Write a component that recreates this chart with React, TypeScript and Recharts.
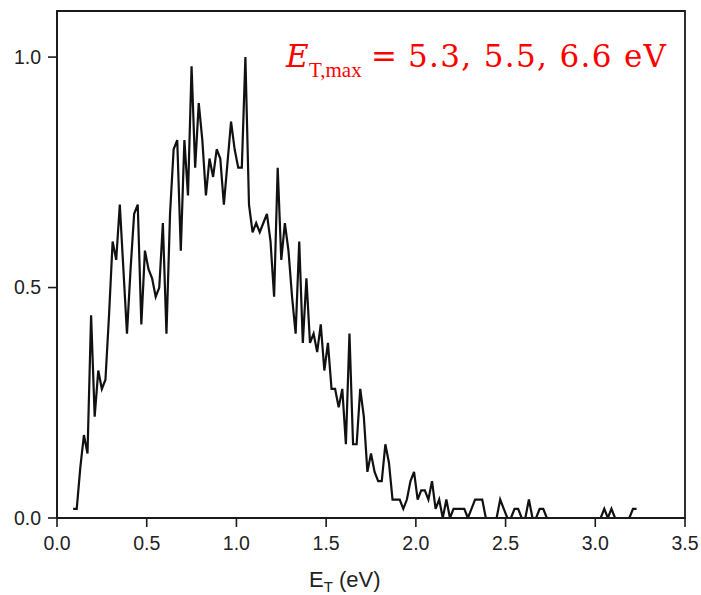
import { LineChart, Line, XAxis, YAxis, ReferenceArea } from "recharts";

// E_T bin centres (eV)
const energies = [
  0.09, 0.11, 0.13, 0.15, 0.17, 0.19, 0.21, 0.23, 0.25, 0.27, 0.29,
  0.31, 0.33, 0.35, 0.37, 0.39, 0.41, 0.43, 0.45, 0.47, 0.49,
  0.51, 0.53, 0.55, 0.57, 0.59, 0.61, 0.63, 0.65, 0.67, 0.69,
  0.71, 0.73, 0.75, 0.77, 0.79, 0.81, 0.83, 0.85, 0.87, 0.89,
  0.91, 0.93, 0.95, 0.97, 0.99, 1.01, 1.03, 1.05, 1.07, 1.09,
  1.11, 1.13, 1.15, 1.17, 1.19, 1.21, 1.23, 1.25, 1.27, 1.29,
  1.31, 1.33, 1.35, 1.37, 1.39, 1.41, 1.43, 1.45, 1.47, 1.49,
  1.51, 1.53, 1.55, 1.57, 1.59, 1.61, 1.63, 1.65, 1.67, 1.69,
  1.71, 1.73, 1.75, 1.77, 1.79, 1.81, 1.83, 1.85, 1.87, 1.89,
  1.91, 1.93, 1.95, 1.97, 1.99, 2.01, 2.03, 2.05, 2.07, 2.09,
  2.11, 2.13, 2.15, 2.17, 2.19, 2.21, 2.23, 2.25, 2.27, 2.29,
  2.31, 2.33, 2.35, 2.37, 2.39, 2.41, 2.43, 2.45, 2.47, 2.49,
  2.51, 2.53, 2.55, 2.57, 2.59, 2.61, 2.63, 2.65, 2.67, 2.69,
  2.71, 2.73, 2.75, 2.77, 2.79, 2.81, 2.83, 2.85, 2.87, 2.89,
  2.91, 2.93, 2.95, 2.97, 2.99, 3.01, 3.03, 3.05, 3.07, 3.09,
  3.11, 3.13, 3.15, 3.17, 3.19, 3.21, 3.23,
];

// normalised counts
const counts = [
  0.02, 0.02, 0.11, 0.18, 0.14, 0.44, 0.22, 0.32, 0.28, 0.30, 0.44,
  0.60, 0.56, 0.68, 0.54, 0.40, 0.54, 0.66, 0.68, 0.42, 0.58,
  0.54, 0.52, 0.48, 0.50, 0.64, 0.40, 0.66, 0.80, 0.82, 0.58,
  0.82, 0.70, 0.98, 0.76, 0.90, 0.82, 0.70, 0.78, 0.74, 0.80,
  0.78, 0.68, 0.77, 0.86, 0.80, 0.76, 0.76, 1.00, 0.68, 0.62,
  0.64, 0.62, 0.64, 0.66, 0.60, 0.48, 0.76, 0.56, 0.64, 0.58,
  0.48, 0.40, 0.60, 0.38, 0.52, 0.38, 0.40, 0.36, 0.42, 0.32,
  0.38, 0.28, 0.28, 0.24, 0.28, 0.16, 0.40, 0.16, 0.16, 0.28,
  0.22, 0.10, 0.14, 0.10, 0.08, 0.08, 0.16, 0.12, 0.04, 0.04,
  0.04, 0.02, 0.04, 0.08, 0.10, 0.04, 0.06, 0.06, 0.04, 0.08,
  0.02, 0.04, 0, 0.04, 0, 0.02, 0.02, 0.02, 0.02, 0,
  0.02, 0.04, 0.04, 0.04, 0, 0, 0, 0, 0.04, 0.02,
  0, 0, 0.02, 0.02, 0, 0, 0.04, 0, 0, 0.02,
  0.02, 0, 0, 0, 0, 0, 0, 0, 0, 0,
  0, 0, 0, 0, 0, 0, 0, 0.02, 0, 0.02,
  0, 0, 0, 0, 0, 0.02, 0.02,
];

const xMajorTicks = [0, 0.5, 1, 1.5, 2, 2.5, 3, 3.5];
const xMinorTicks = [0.25, 0.75, 1.25, 1.75, 2.25, 2.75, 3.25];
const yMajorTicks = [0, 0.5, 1];
const yMinorTicks = [0.25, 0.75];

const rows = energies.map((e, i) => ({ e, n: counts[i] }));

const ink = "#1a1a1a";
const sans = "'Liberation Sans', Arial, sans-serif";
const tickFont = { fill: "#222", fontSize: 19.5, fontFamily: sans };
const fmt = (v: number) => Number(v).toFixed(1);

export default function App() {
  return (
    <div style={{ position: "absolute", left: 0, top: 0, width: 701, height: 595, background: "#fff" }}>
      <LineChart width={701} height={595} data={rows} margin={{ top: 11, right: 16, bottom: 75, left: 55 }}>
        <XAxis
          dataKey="e"
          type="number"
          domain={[0, 3.5]}
          ticks={xMajorTicks}
          tickFormatter={fmt}
          height={1}
          tickSize={9}
          tickMargin={9}
          tick={tickFont}
          axisLine={{ stroke: ink, strokeWidth: 1.8 }}
          tickLine={{ stroke: ink, strokeWidth: 1.6 }}
          allowDataOverflow
        />
        <XAxis
          xAxisId="minor"
          dataKey="e"
          type="number"
          domain={[0, 3.5]}
          ticks={xMinorTicks}
          height={1}
          tickSize={5}
          tick={false}
          axisLine={false}
          tickLine={{ stroke: ink, strokeWidth: 1.6 }}
          allowDataOverflow
        />
        <YAxis
          type="number"
          domain={[0, 1.1]}
          ticks={yMajorTicks}
          tickFormatter={fmt}
          width={1}
          tickSize={9}
          tickMargin={7}
          tick={tickFont}
          axisLine={{ stroke: ink, strokeWidth: 1.8 }}
          tickLine={{ stroke: ink, strokeWidth: 1.6 }}
          allowDataOverflow
        />
        <YAxis
          yAxisId="minor"
          type="number"
          domain={[0, 1.1]}
          ticks={yMinorTicks}
          width={1}
          tickSize={5}
          tick={false}
          axisLine={false}
          tickLine={{ stroke: ink, strokeWidth: 1.6 }}
          allowDataOverflow
        />
        <ReferenceArea x1={0} x2={3.5} y1={0} y2={1.1} fill="none" stroke={ink} strokeWidth={1.8} />
        <Line
          type="linear"
          dataKey="n"
          stroke="#111"
          strokeWidth={2.2}
          dot={false}
          isAnimationActive={false}
        />
      </LineChart>
      <svg width={701} height={595} style={{ position: "absolute", left: 0, top: 0, pointerEvents: "none" }}>
        <g fill="#ff0000">
          <text x={286} y={67} fontSize={31} fontStyle="italic" fontFamily="'DejaVu Serif', serif">E</text>
          <text x={309} y={77} fontSize={21} fontFamily="'Liberation Serif', serif">T,max</text>
          <text x={371} y={67} fontSize={31} fontFamily="'DejaVu Serif', serif">=</text>
          <text x={408} y={67} fontSize={31} textLength={258} fontFamily="'DejaVu Serif', serif">
            5.3, 5.5, 6.6 eV
          </text>
        </g>
        <text x={309} y={587} fontSize={22} fill="#222" fontFamily={sans}>
          E<tspan fontSize={15} dy={5}>T</tspan>
          <tspan dy={-5}> (eV)</tspan>
        </text>
      </svg>
    </div>
  );
}
